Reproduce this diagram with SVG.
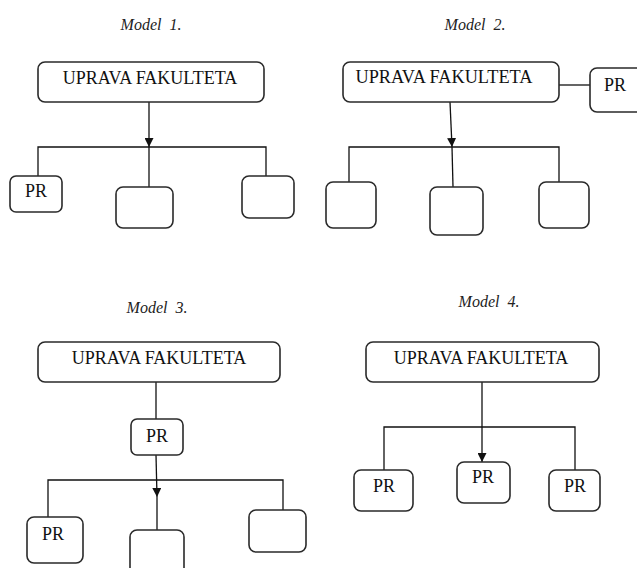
<svg xmlns="http://www.w3.org/2000/svg" width="637" height="568" viewBox="0 0 637 568">
<defs>
<marker id="arr" viewBox="0 0 10 10" refX="10" refY="5" markerWidth="9" markerHeight="9" markerUnits="userSpaceOnUse" orient="auto">
<path d="M0,0 L10,5 L0,10 Z" fill="#111"/>
</marker>
</defs>
<style>
.box{fill:#fff;stroke:#2a2a2a;stroke-width:1.6}
.ln{fill:none;stroke:#111;stroke-width:1.3}
.t{font-family:"Liberation Serif","Times New Roman",serif;font-size:18px;fill:#111;text-anchor:middle}
.title{font-family:"Liberation Serif","Times New Roman",serif;font-size:16px;font-style:italic;fill:#222;text-anchor:middle}
</style>
<rect width="637" height="568" fill="#fff"/>

<g id="connectors">
<!-- Model 1 -->
<line class="ln" x1="149" y1="102" x2="149" y2="147" marker-end="url(#arr)"/>
<line class="ln" x1="149" y1="147" x2="149" y2="187"/>
<polyline class="ln" points="38,176 38,147 266,147 266,176"/>
<!-- Model 2 -->
<line class="ln" x1="559" y1="85" x2="590" y2="85"/>
<line class="ln" x1="450" y1="102" x2="452" y2="147" marker-end="url(#arr)"/>
<line class="ln" x1="452" y1="147" x2="453" y2="187"/>
<polyline class="ln" points="349,182 349,147 559,147 559,182"/>
<!-- Model 3 -->
<line class="ln" x1="156" y1="382" x2="156" y2="419"/>
<line class="ln" x1="156" y1="455" x2="157" y2="497" marker-end="url(#arr)"/>
<line class="ln" x1="157" y1="497" x2="157" y2="530"/>
<polyline class="ln" points="48,517 48,480 283,480 283,510"/>
<!-- Model 4 -->
<line class="ln" x1="482" y1="382" x2="482" y2="462" marker-end="url(#arr)"/>
<polyline class="ln" points="384,470 384,427 575,427 575,470"/>
</g>

<g id="titles">
<text class="title" x="151" y="30" xml:space="preserve">Model  1.</text>
<text class="title" x="475" y="30" xml:space="preserve">Model  2.</text>
<text class="title" x="157" y="313" xml:space="preserve">Model  3.</text>
<text class="title" x="489" y="307" xml:space="preserve">Model  4.</text>
</g>

<!-- Model 1 nodes -->
<g id="m1-top"><rect class="box" x="38" y="62" width="226" height="40" rx="7"/><text class="t" x="150" y="84">UPRAVA FAKULTETA</text></g>
<g id="m1-pr"><rect class="box" x="10" y="176" width="52" height="36" rx="6"/><text class="t" x="36" y="197">PR</text></g>
<g id="m1-mid"><rect class="box" x="116" y="187" width="57" height="41" rx="7"/></g>
<g id="m1-right"><rect class="box" x="242" y="176" width="52" height="42" rx="7"/></g>

<!-- Model 2 nodes -->
<g id="m2-top"><rect class="box" x="343" y="62" width="216" height="40" rx="7"/><text class="t" x="444" y="83" textLength="177" lengthAdjust="spacingAndGlyphs">UPRAVA FAKULTETA</text></g>
<g id="m2-pr"><rect class="box" x="590" y="68" width="60" height="44" rx="7"/><text class="t" x="615" y="91">PR</text></g>
<g id="m2-left"><rect class="box" x="326" y="182" width="50" height="46" rx="7"/></g>
<g id="m2-mid"><rect class="box" x="430" y="187" width="53" height="48" rx="7"/></g>
<g id="m2-right"><rect class="box" x="539" y="182" width="50" height="46" rx="7"/></g>

<!-- Model 3 nodes -->
<g id="m3-top"><rect class="box" x="38" y="342" width="242" height="40" rx="7"/><text class="t" x="159" y="364">UPRAVA FAKULTETA</text></g>
<g id="m3-pr"><rect class="box" x="131" y="419" width="52" height="36" rx="6"/><text class="t" x="157" y="442">PR</text></g>
<g id="m3-left"><rect class="box" x="27" y="517" width="56" height="46" rx="7"/><text class="t" x="53" y="540">PR</text></g>
<g id="m3-mid"><rect class="box" x="130" y="530" width="54" height="50" rx="7"/></g>
<g id="m3-right"><rect class="box" x="249" y="510" width="57" height="42" rx="7"/></g>

<!-- Model 4 nodes -->
<g id="m4-top"><rect class="box" x="366" y="342" width="233" height="40" rx="7"/><text class="t" x="481" y="364">UPRAVA FAKULTETA</text></g>
<g id="m4-left"><rect class="box" x="354" y="470" width="59" height="41" rx="7"/><text class="t" x="384" y="492">PR</text></g>
<g id="m4-mid"><rect class="box" x="457" y="462" width="53" height="41" rx="7"/><text class="t" x="483" y="483">PR</text></g>
<g id="m4-right"><rect class="box" x="549" y="470" width="51" height="41" rx="7"/><text class="t" x="575" y="492">PR</text></g>
</svg>
